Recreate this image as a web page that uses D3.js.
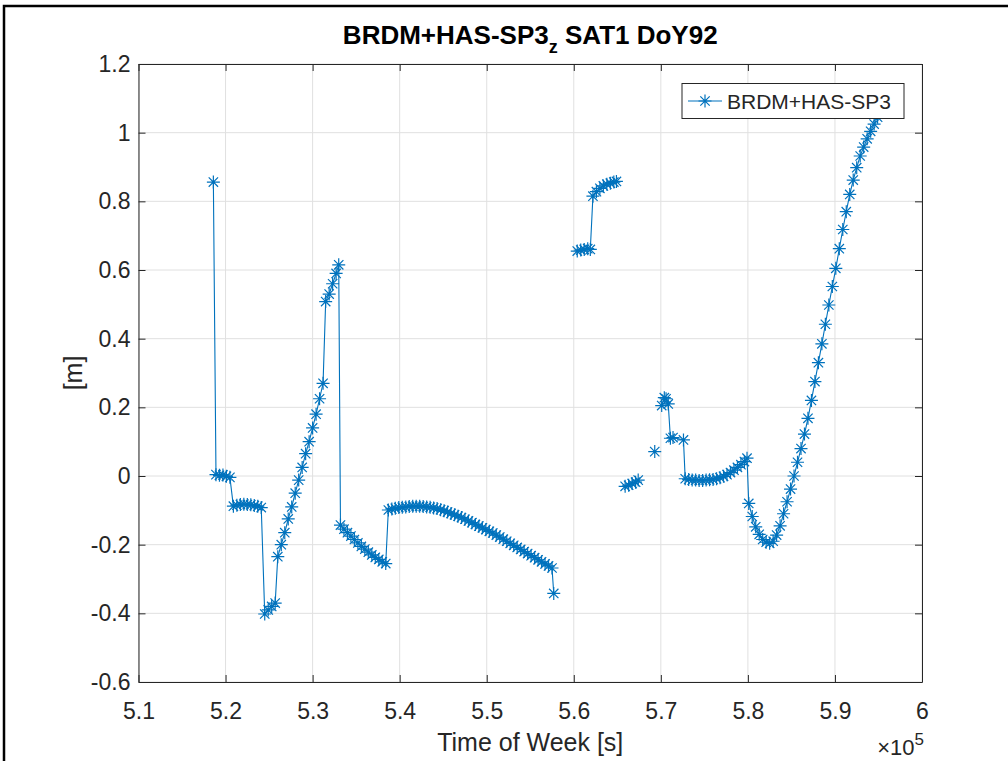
<!DOCTYPE html>
<html>
<head>
<meta charset="utf-8">
<script src="https://cdn.jsdelivr.net/npm/d3@7"></script>
<style>
  body { margin: 0; background: #fff; }
  svg { display: block; font-family: 'Liberation Sans', Arial, sans-serif; }
</style>
</head>
<body>
<div id="chart"></div>
<script>
// Tick labels
const xTicks = [510000, 520000, 530000, 540000, 550000, 560000, 570000, 580000, 590000, 600000];
const xTickLabels = ['5.1', '5.2', '5.3', '5.4', '5.5', '5.6', '5.7', '5.8', '5.9', '6'];
const yTicks = [-0.6, -0.4, -0.2, 0, 0.2, 0.4, 0.6, 0.8, 1, 1.2];
const yTickLabels = ['-0.6', '-0.4', '-0.2', '0', '0.2', '0.4', '0.6', '0.8', '1', '1.2'];

// Time of week [s] and value [m]; null marks a break in the line
const tow = [
  518600, 518900, 519300, 519700, 520100, 520500,
  520900, 521300, 521700, 522100, 522500, 522900, 523300, 523700, 524100,
  524500, 524900, 525300, 525700,
  526000, 526400, 526800, 527200, 527600, 528000, 528400, 528800, 529200, 529600, 530000, 530400, 530800, 531200,
  531500, 531900, 532300, 532700, 533000,
  533200, 533600, 534000, 534400, 534800, 535200, 535600, 536000, 536400, 536800, 537200, 537600, 538000, 538400,
  538700, 539100, 539500, 539900, 540300, 540700, 541100, 541500, 541900, 542300, 542700, 543100, 543500, 543900,
  544300, 544700, 545100, 545500, 545900, 546300, 546700, 547100, 547500, 547900, 548300, 548700, 549100, 549500,
  549900, 550300, 550700, 551100, 551500, 551900, 552300, 552700, 553100, 553500, 553900, 554300, 554700, 555100,
  555500, 555900, 556300, 556700, 557100, 557500, 557700,
  558800,
  560400, 560800, 561200, 561600, 561900,
  562200, 562600, 563000, 563400, 563800, 564200, 564600, 564900,
  565400,
  565900, 566300, 566700, 567100, 567400,
  568300,
  569300,
  569700,
  570100, 570400, 570600, 570850, 571100, 571400, 572600,
  572800, 573200, 573600, 574000, 574400, 574800, 575200, 575600, 576000, 576400, 576800, 577200, 577600, 578000,
  578400, 578800, 579200, 579600, 579900,
  580100, 580500, 580900, 581300, 581700, 582100, 582500, 582900, 583300, 583700, 584100, 584500, 584900, 585300,
  585700, 586100, 586500, 586900, 587300, 587700, 588100, 588500, 588900, 589300, 589700, 590100, 590500, 590900,
  591300, 591700, 592100, 592500, 592900, 593300, 593700, 594100, 594500, 594900
];
const value = [
  0.856, 0.004, 0.002, 0.003, -0.001, -0.004,
  -0.088, -0.085, -0.083, -0.082, -0.083, -0.084, -0.086, -0.088, -0.092,
  -0.402, -0.390, -0.380, -0.370,
  -0.235, -0.200, -0.165, -0.125, -0.090, -0.050, -0.012, 0.025, 0.065, 0.100, 0.140, 0.180, 0.225, 0.270,
  0.508, 0.530, 0.560, 0.590, 0.615,
  -0.143, -0.155, -0.165, -0.175, -0.185, -0.195, -0.205, -0.213, -0.222, -0.230, -0.237, -0.243, -0.250, -0.255,
  -0.099, -0.096, -0.094, -0.092, -0.091, -0.090, -0.089, -0.088, -0.088, -0.088, -0.089, -0.090, -0.091, -0.093,
  -0.095, -0.098, -0.101, -0.105, -0.109, -0.113, -0.117, -0.121, -0.126, -0.131, -0.136, -0.141, -0.146, -0.151,
  -0.156, -0.161, -0.166, -0.172, -0.178, -0.184, -0.190, -0.196, -0.202, -0.208, -0.214, -0.220, -0.226, -0.232,
  -0.238, -0.244, -0.250, -0.256, -0.262, -0.268, -0.342,
  null,
  0.655, 0.658, 0.660, 0.662, 0.660,
  0.815, 0.828, 0.838, 0.845, 0.850, 0.853, 0.856, 0.858,
  null,
  -0.030, -0.027, -0.022, -0.018, -0.012,
  null,
  0.071,
  null,
  0.205, 0.228, 0.225, 0.210, 0.110, 0.112, 0.105,
  -0.008, -0.010, -0.012, -0.012, -0.013, -0.013, -0.012, -0.011, -0.010, -0.008, -0.005, -0.001, 0.004, 0.010,
  0.017, 0.025, 0.033, 0.042, 0.052,
  -0.080, -0.118, -0.148, -0.170, -0.185, -0.193, -0.196, -0.190, -0.172, -0.145, -0.110, -0.075, -0.038, 0.000,
  0.040, 0.080, 0.122, 0.168, 0.220, 0.275, 0.330, 0.385, 0.442, 0.498, 0.552, 0.605, 0.662, 0.718,
  0.770, 0.820, 0.862, 0.898, 0.932, 0.958, 0.982, 1.004, 1.025, 1.045
];

const data = tow.map((t, i) => ({ t: t, v: value[i] }));

// Layout
const W = 1008, H = 761;
const plot = { left: 138.5, right: 922, top: 64, bottom: 682 };
const blue = '#0072BD';
const axisColor = '#262626';

const svg = d3.select('#chart').append('svg')
  .attr('width', W)
  .attr('height', H);

// Outer frame of the screenshot
svg.append('rect')
  .attr('x', 4).attr('y', 6)
  .attr('width', 1100).attr('height', 1000)
  .attr('fill', 'none')
  .attr('stroke', '#000')
  .attr('stroke-width', 2.5);

const x = d3.scaleLinear().domain([510000, 600000]).range([plot.left, plot.right]);
const y = d3.scaleLinear().domain([-0.6, 1.2]).range([plot.bottom, plot.top]);

// Grid
svg.append('g')
  .selectAll('line')
  .data(xTicks)
  .join('line')
    .attr('x1', d => x(d)).attr('x2', d => x(d))
    .attr('y1', plot.top).attr('y2', plot.bottom)
    .attr('stroke', '#e0e0e0').attr('stroke-width', 1);
svg.append('g')
  .selectAll('line')
  .data(yTicks)
  .join('line')
    .attr('x1', plot.left).attr('x2', plot.right)
    .attr('y1', d => y(d)).attr('y2', d => y(d))
    .attr('stroke', '#e0e0e0').attr('stroke-width', 1);

// Axes (ticks inward, box on)
const fmtX = d => xTickLabels[xTicks.indexOf(d)];
const fmtY = d => yTickLabels[yTicks.indexOf(d)];

const gx = svg.append('g')
  .attr('transform', `translate(0, ${plot.bottom})`)
  .call(d3.axisBottom(x).tickValues(xTicks).tickFormat(fmtX).tickSizeInner(-7).tickSizeOuter(0).tickPadding(21));
const gxTop = svg.append('g')
  .attr('transform', `translate(0, ${plot.top})`)
  .call(d3.axisTop(x).tickValues(xTicks).tickFormat('').tickSizeInner(-7).tickSizeOuter(0));
const gy = svg.append('g')
  .attr('transform', `translate(${plot.left}, 0)`)
  .call(d3.axisLeft(y).tickValues(yTicks).tickFormat(fmtY).tickSizeInner(-7).tickSizeOuter(0).tickPadding(8));
const gyRight = svg.append('g')
  .attr('transform', `translate(${plot.right}, 0)`)
  .call(d3.axisRight(y).tickValues(yTicks).tickFormat('').tickSizeInner(-7).tickSizeOuter(0));

[gx, gxTop, gy, gyRight].forEach(g => {
  g.select('.domain').attr('stroke', axisColor).attr('stroke-width', 1);
  g.selectAll('.tick line').attr('stroke', axisColor).attr('stroke-width', 1);
  g.selectAll('.tick text')
    .attr('fill', axisColor)
    .attr('font-size', 23)
    .attr('font-family', "'Liberation Sans', Arial, sans-serif");
});
gx.selectAll('.tick text').attr('dy', '0.71em');

// Data line with breaks
const line = d3.line()
  .defined(d => d.v !== null)
  .x(d => x(d.t))
  .y(d => y(d.v));

svg.append('path')
  .datum(data)
  .attr('fill', 'none')
  .attr('stroke', blue)
  .attr('stroke-width', 1.1)
  .attr('d', line);

// Asterisk markers
const star = (r) => `M${-r},0H${r}M0,${-r}V${r}M${-r * 0.72},${-r * 0.72}L${r * 0.72},${r * 0.72}M${-r * 0.72},${r * 0.72}L${r * 0.72},${-r * 0.72}`;

svg.append('g')
  .selectAll('path')
  .data(data.filter(d => d.v !== null))
  .join('path')
    .attr('transform', d => `translate(${x(d.t)}, ${y(d.v)})`)
    .attr('d', star(6.5))
    .attr('fill', 'none')
    .attr('stroke', blue)
    .attr('stroke-width', 1.2);

// Legend
const leg = svg.append('g');
leg.append('rect')
  .attr('x', 682).attr('y', 83.5)
  .attr('width', 222).attr('height', 35)
  .attr('fill', '#fff')
  .attr('stroke', axisColor)
  .attr('stroke-width', 1);
leg.append('line')
  .attr('x1', 688).attr('x2', 722)
  .attr('y1', 101).attr('y2', 101)
  .attr('stroke', blue).attr('stroke-width', 1.1);
leg.append('path')
  .attr('transform', 'translate(705, 101)')
  .attr('d', star(6.5))
  .attr('fill', 'none')
  .attr('stroke', blue)
  .attr('stroke-width', 1.2);
leg.append('text')
  .attr('x', 727).attr('y', 109)
  .attr('font-size', 21)
  .attr('fill', axisColor)
  .text('BRDM+HAS-SP3');

// Title with subscript
const title = svg.append('text')
  .attr('x', (plot.left + plot.right) / 2)
  .attr('y', 44)
  .attr('text-anchor', 'middle')
  .attr('font-size', 26)
  .attr('font-weight', 'bold')
  .attr('fill', '#000');
title.append('tspan').text('BRDM+HAS-SP3');
title.append('tspan').attr('dy', 9).attr('font-size', 18).text('z');
title.append('tspan').attr('dy', -9).text(' SAT1 DoY92');

// Axis labels
svg.append('text')
  .attr('x', (plot.left + plot.right) / 2)
  .attr('y', 751)
  .attr('text-anchor', 'middle')
  .attr('font-size', 25)
  .attr('fill', axisColor)
  .text('Time of Week [s]');

svg.append('text')
  .attr('transform', `translate(82, ${(plot.top + plot.bottom) / 2}) rotate(-90)`)
  .attr('text-anchor', 'middle')
  .attr('font-size', 25)
  .attr('fill', axisColor)
  .text('[m]');

// Exponent label
const expo = svg.append('text')
  .attr('x', plot.right + 2)
  .attr('y', 755)
  .attr('text-anchor', 'end')
  .attr('font-size', 22)
  .attr('fill', axisColor);
expo.append('tspan').text('\u00d710');
expo.append('tspan').attr('dy', -10).attr('font-size', 17).text('5');
</script>
</body>
</html>
